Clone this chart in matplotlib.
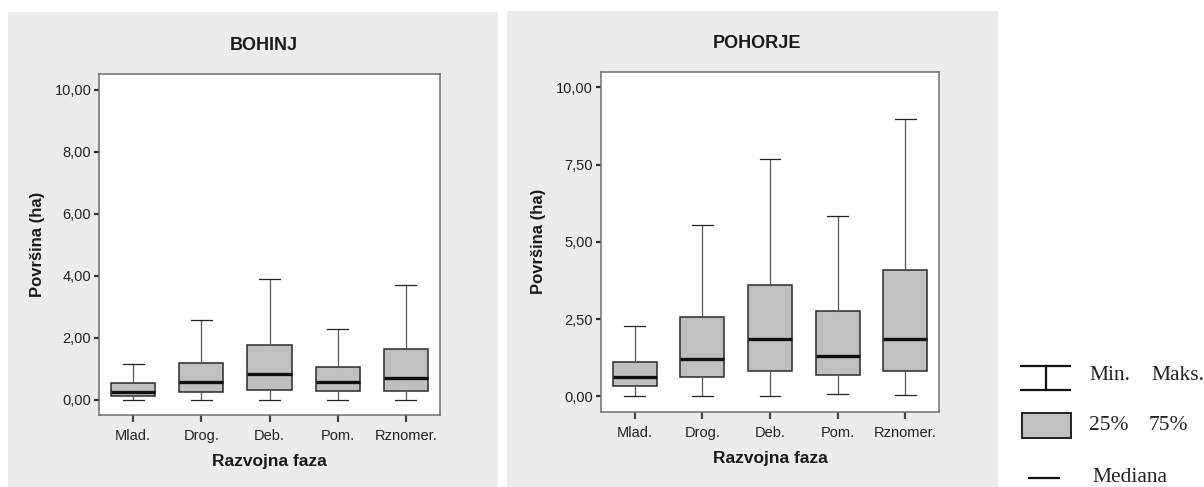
import matplotlib
matplotlib.use("Agg")
import matplotlib.pyplot as plt
from matplotlib.patches import Rectangle
from matplotlib.lines import Line2D
from matplotlib.ticker import FuncFormatter

categories = ["Mlad.", "Drog.", "Deb.", "Pom.", "Rznomer."]

# Bohinj
boh_min = [0.00, 0.00, 0.00, 0.00, 0.00]
boh_q1 = [0.12, 0.23, 0.31, 0.27, 0.27]
boh_med = [0.23, 0.56, 0.82, 0.56, 0.69]
boh_q3 = [0.54, 1.19, 1.75, 1.06, 1.63]
boh_max = [1.15, 2.56, 3.90, 2.29, 3.70]

# Pohorje
poh_min = [0.00, 0.00, 0.00, 0.08, 0.04]
poh_q1 = [0.34, 0.62, 0.81, 0.69, 0.81]
poh_med = [0.62, 1.20, 1.85, 1.30, 1.85]
poh_q3 = [1.11, 2.56, 3.59, 2.75, 4.08]
poh_max = [2.26, 5.54, 7.67, 5.84, 8.99]

boh_ticks = [0, 2, 4, 6, 8, 10]
poh_ticks = [0, 2.5, 5, 7.5, 10]

titles = ["BOHINJ", "POHORJE"]
ylabel = "Površina (ha)"
xlabel = "Razvojna faza"
legend_labels = [("Min.", "Maks."), ("25%", "75%"), ("Mediana",)]

plt.rcParams['font.family'] = ['Liberation Sans', 'DejaVu Sans']

W, H = 1204, 487
fig = plt.figure(figsize=(W / 100, H / 100), dpi=100)
fig.patch.set_facecolor("white")

panel_col = "#ebecee"
fig.patches.append(Rectangle((8 / W, 0), 490 / W, 475.5 / H, transform=fig.transFigure,
                             facecolor=panel_col, edgecolor="none", zorder=-5))
fig.patches.append(Rectangle((507 / W, 0), 491 / W, 476 / H, transform=fig.transFigure,
                             facecolor=panel_col, edgecolor="none", zorder=-5))

def make_stats(mins, q1, med, q3, maxs):
    return [dict(whislo=a, q1=b, med=c, q3=d, whishi=e, fliers=[], label=l)
            for a, b, c, d, e, l in zip(mins, q1, med, q3, maxs, categories)]

axes_rects = [
    [99 / W, (H - 415) / H, 341 / W, 341 / H],
    [600.7 / W, (H - 411.7) / H, 338.6 / W, 339.7 / H],
]
title_x = [0.484, 0.462]
datasets = [
    (make_stats(boh_min, boh_q1, boh_med, boh_q3, boh_max), boh_ticks),
    (make_stats(poh_min, poh_q1, poh_med, poh_q3, poh_max), poh_ticks),
]
fmt = FuncFormatter(lambda v, p: f"{v:.2f}".replace(".", ","))

for rect, (stats, ticks), title, tx in zip(axes_rects, datasets, titles, title_x):
    ax = fig.add_axes(rect, zorder=2)
    ax.set_facecolor("white")
    ax.bxp(stats, positions=range(1, 6), widths=0.65, patch_artist=True,
           showfliers=False,
           boxprops=dict(facecolor="#c0c0c0", edgecolor="#2a2a2a", linewidth=1.1),
           medianprops=dict(color="#111111", linewidth=2.4),
           whiskerprops=dict(color="#555555", linewidth=0.9),
           capprops=dict(color="#222222", linewidth=0.9),
           capwidths=0.31)
    ax.set_xlim(0.5, 5.5)
    ax.set_ylim(-0.5, 10.5)
    ax.set_yticks(ticks)
    ax.yaxis.set_major_formatter(fmt)
    ax.set_xticks(range(1, 6))
    ax.set_xticklabels(categories)
    for s in ax.spines.values():
        s.set_color("#6b7073")
        s.set_linewidth(1.1)
    ax.tick_params(axis="y", direction="out", length=3.5, width=1.6, color="#333333",
                   labelsize=10.5, labelcolor="#222222", pad=2)
    ax.tick_params(axis="x", direction="out", length=5, width=1.6, color="#444444",
                   labelsize=10.5, labelcolor="#222222", pad=5)
    ax.set_title(title, fontsize=13, fontweight="bold", color="#1a1a1a", pad=17, x=tx)
    ax.set_ylabel(ylabel, fontsize=12, fontweight="bold", color="#1a1a1a", labelpad=7)
    ax.set_xlabel(xlabel, fontsize=12.5, fontweight="bold", color="#1a1a1a", labelpad=8)

# Legend drawn in figure coordinates
def fx(px):
    return px / W

def fy(py):
    return (H - py) / H

lc = "#111111"
fig.add_artist(Line2D([fx(1021), fx(1070)], [fy(366), fy(366)], color=lc, lw=1.6,
                      transform=fig.transFigure))
fig.add_artist(Line2D([fx(1021), fx(1070)], [fy(390), fy(390)], color=lc, lw=1.6,
                      transform=fig.transFigure))
fig.add_artist(Line2D([fx(1046), fx(1046)], [fy(366), fy(390)], color=lc, lw=1.6,
                      transform=fig.transFigure))
fig.add_artist(Rectangle((fx(1022), fy(438)), 49 / W, 25 / H, transform=fig.transFigure,
                         facecolor="#c0c0c0", edgecolor="#222222", linewidth=1.4))
fig.add_artist(Line2D([fx(1029), fx(1059)], [fy(478), fy(478)], color=lc, lw=1.6,
                      transform=fig.transFigure))

serif = ['Liberation Serif', 'DejaVu Serif']
tk = dict(fontsize=15.5, family=serif, color="#222222", va="center", ha="left",
          transform=fig.transFigure)
fig.text(fx(1089), fy(376), legend_labels[0][0], **tk)
fig.text(fx(1151), fy(376), legend_labels[0][1], **tk)
fig.text(fx(1089), fy(425), legend_labels[1][0], **tk)
fig.text(fx(1149), fy(425), legend_labels[1][1], **tk)
fig.text(fx(1092), fy(477), legend_labels[2][0], **tk)

fig.savefig("out.png", dpi=100, facecolor="white")
